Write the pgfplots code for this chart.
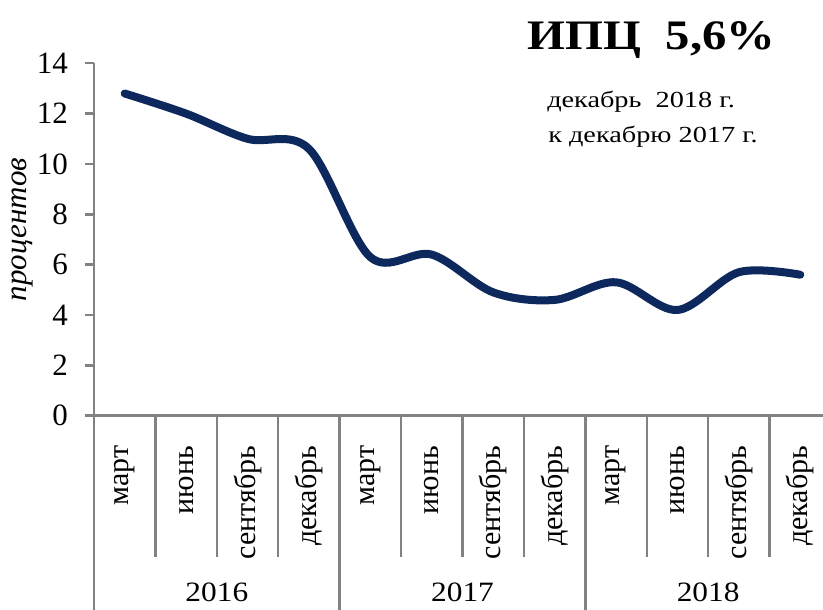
\documentclass[border=0pt]{standalone}
\usepackage{fontspec}
\setmainfont{Liberation Serif}
\usepackage{pgfplots}
\pgfplotsset{compat=1.18}
\definecolor{navy}{RGB}{12,40,92}
\definecolor{axgray}{RGB}{130,130,130}
\begin{document}
\begin{tikzpicture}[x=1pt,y=1pt]
\useasboundingbox (0,0) rectangle (823,610);
\begin{axis}[
  at={(94pt,194.3pt)}, anchor=south west,
  scale only axis, width=737pt, height=352.4pt,
  xmin=0, xmax=12, ymin=0, ymax=14,
  axis x line=bottom, axis y line=left,
  axis line style={-, draw=axgray, line width=2.4pt},
  ytick={0,2,...,14},
  tick align=outside, major tick length=9pt,
  ytick style={draw=axgray, line width=2.4pt},
  xtick={0.5,1.5,...,11.5},
  xticklabels={март,июнь,сентябрь,декабрь,март,июнь,сентябрь,декабрь,март,июнь,сентябрь,декабрь},
  xtick style={draw=none},
  xticklabel style={rotate=90, anchor=east, inner sep=0pt, font=\fontsize{30}{30}\selectfont, xshift=-21pt},
  yticklabel style={font=\fontsize{31}{31}\selectfont, inner sep=0pt, xshift=-17pt},
  /pgf/number format/assume math mode=true,
  ylabel={\textit{процентов}},
  every axis y label/.style={at={(rel axis cs:0,0.528)}, xshift=-72pt, rotate=90, anchor=center, inner sep=0pt, font=\fontsize{31}{31}\selectfont},
  clip=false,
]
\addplot[navy, line width=8pt, smooth, tension=0.55, line cap=round, line join=round] coordinates {
  (0.5,12.8) (1.5,12.0) (2.5,11.0) (3.5,10.6)
  (4.5,6.3) (5.5,6.4) (6.5,4.9) (7.5,4.6)
  (8.5,5.3) (9.5,4.2) (10.5,5.7) (11.5,5.6)
};
\pgfplotsinvokeforeach{1,2,3,5,6,7,9,10,11}{
  \draw[axgray, line width=2.4pt] (axis cs:#1,0) -- ++(0pt,-141pt);
}
\pgfplotsinvokeforeach{0,4,8,12}{
  \draw[axgray, line width=2.4pt] (axis cs:#1,0) -- ++(0pt,-200pt);
}
\node[font=\fontsize{28}{28}\selectfont, anchor=base, xscale=1.12] at (axis cs:2,0) [yshift=-186pt] {2016};
\node[font=\fontsize{28}{28}\selectfont, anchor=base, xscale=1.12] at (axis cs:6,0) [yshift=-186pt] {2017};
\node[font=\fontsize{28}{28}\selectfont, anchor=base, xscale=1.12] at (axis cs:10,0) [yshift=-186pt] {2018};
\end{axis}
\node[font=\bfseries\fontsize{42}{42}\selectfont, anchor=base, xscale=1.16, inner sep=0pt] at (651.5,560) {ИПЦ\ \ 5,6\%};
\node[anchor=base west, font=\fontsize{23}{23}\selectfont, inner sep=0pt, xscale=1.23] at (547,502) {декабрь\ \ 2018 г.};
\node[anchor=base west, font=\fontsize{23}{23}\selectfont, inner sep=0pt, xscale=1.23] at (548,467) {к декабрю 2017 г.};
\end{tikzpicture}
\end{document}
